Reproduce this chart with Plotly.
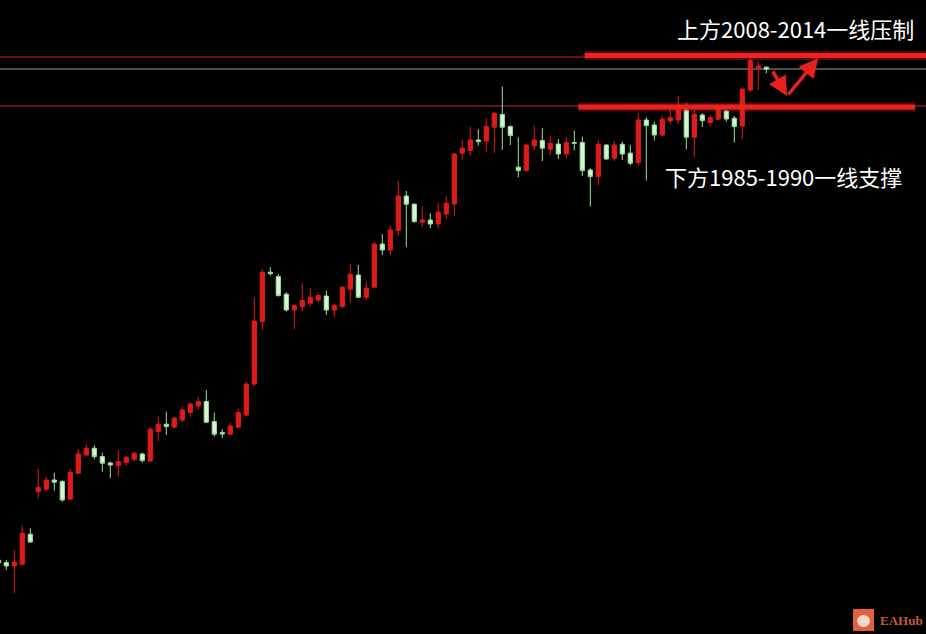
import plotly.graph_objects as go

# Gold price candles
opens = [1760, 1758.7, 1757, 1757.9, 1772.9, 1794.2, 1795.4, 1800, 1799.2, 1790.4,
         1803.4, 1812.5, 1815.9, 1811.7, 1808.5, 1807.2, 1808.7, 1810.4, 1813, 1809.5,
         1824.2, 1827.9, 1826.4, 1830, 1833.7, 1837, 1839.2, 1829.2, 1823.7, 1822.9,
         1826.4, 1832.5, 1848, 1879.2, 1903.9, 1901.7, 1892.9, 1885, 1886.7, 1888.4,
         1890, 1892, 1885, 1886.7, 1895.4, 1902.5, 1891.4, 1896.4, 1918, 1915,
         1924.7, 1942, 1937.9, 1928.9, 1930, 1928, 1933, 1938, 1963.4, 1964.7,
         1970, 1969.5, 1976.4, 1982.8, 1976.7, 1956.4, 1954.7, 1967, 1969.7, 1965.4,
         1968, 1963, 1968.7, 1968.7, 1955, 1951.7, 1967.5, 1960.9, 1967.9, 1963.4,
         1958.7, 1980, 1977.5, 1972.5, 1979.5, 1980, 1985, 1971.4, 1982.5, 1978.7,
         1980.4, 1984.5, 1980.9, 1977, 1995, 2006, 2006.4]
highs = [1761, 1760, 1765, 1777.2, 1775.9, 1805.5, 1801.7, 1803.7, 1800, 1805.4,
         1815.5, 1818, 1817.5, 1813.7, 1809.2, 1815, 1812, 1814.2, 1813.7, 1826.4,
         1831.7, 1834.2, 1831.7, 1836.7, 1838.7, 1841.7, 1845, 1833.7, 1825.4, 1828.7,
         1835.5, 1849.2, 1891.3, 1905.4, 1906.4, 1902.9, 1893.9, 1887.5, 1898.7, 1895.9,
         1893.7, 1894.7, 1888, 1897, 1908, 1907.5, 1899.2, 1919.2, 1923, 1927.2,
         1949.7, 1944.5, 1938.4, 1937, 1933.4, 1938.7, 1942, 1963.7, 1970, 1976.7,
         1975.4, 1980.9, 1984.2, 1996.7, 1977.2, 1971.4, 1968.4, 1977.2, 1975.9, 1972,
         1970.5, 1971.7, 1974.7, 1971.7, 1955.9, 1970, 1967.9, 1969.5, 1969.2, 1967.5,
         1983.4, 1981.4, 1979.2, 1982, 1985.4, 1991.7, 1988.4, 1987.5, 1983.4, 1982.5,
         1986.7, 1985.4, 1982, 1996.4, 2011.7, 2009.2, 2006.7]
lows = [1757, 1755, 1743.4, 1757, 1768.7, 1790.9, 1794.2, 1794.7, 1789.2, 1790,
        1803, 1811.7, 1810.4, 1804.2, 1800.9, 1801.7, 1807.5, 1809.2, 1808.7, 1809.2,
        1819.5, 1822.5, 1825.9, 1828.9, 1831.7, 1835.4, 1828.4, 1821.7, 1820.9, 1822.5,
        1825.9, 1831.7, 1847, 1875, 1902.2, 1891.7, 1884.2, 1875.4, 1884.2, 1886.7,
        1888.9, 1882.5, 1881.4, 1885.9, 1888.7, 1890.9, 1890, 1895.9, 1912.5, 1912.5,
        1922, 1916.4, 1928.7, 1926.7, 1925.9, 1925.9, 1930.4, 1932, 1960, 1962,
        1967.2, 1964.2, 1963.4, 1965, 1967.5, 1951.4, 1954.2, 1965, 1959.5, 1962.5,
        1960.5, 1960.9, 1964.7, 1952, 1936.7, 1947.5, 1960, 1959.5, 1960, 1957.5,
        1957, 1949.7, 1969.7, 1972, 1978, 1978, 1965.4, 1961.4, 1976.4, 1976.7,
        1980, 1979.2, 1968.7, 1970.4, 1994.2, 1995, 2003.4]
closes = [1758.5, 1757, 1758.9, 1773.4, 1769, 1796.2, 1800, 1798.9, 1790, 1803.7,
          1813, 1815.9, 1811.7, 1808.4, 1807.5, 1809.2, 1811.4, 1813.4, 1809.7, 1825.4,
          1827.9, 1826.7, 1830.9, 1835, 1838, 1839.2, 1828.9, 1822.9, 1823, 1827,
          1833.7, 1848, 1879.5, 1903.9, 1903.2, 1892.2, 1885, 1887.2, 1889.7, 1891.4,
          1892.2, 1885, 1887.2, 1896.4, 1902.9, 1891.4, 1895.9, 1918, 1915, 1925,
          1942, 1937.9, 1929.2, 1930, 1928, 1933.9, 1938.4, 1963, 1965.9, 1970,
          1969.2, 1976.7, 1983.4, 1976.4, 1972.2, 1954.7, 1967.5, 1970, 1965.9, 1968.4,
          1963, 1968.7, 1968.4, 1954.7, 1951.7, 1967.9, 1960.5, 1967.5, 1963, 1958.4,
          1980, 1977.2, 1972.5, 1980.4, 1981.2, 1985.4, 1971.4, 1982.9, 1979.7, 1981.2,
          1985.5, 1980.5, 1976.7, 1995.4, 2009.7, 2007, 2005.4]
bars = list(range(len(opens)))

# Levels
resistance_level = 2011.5
support_level = 1987
last_price = 2005.5
resistance_band = 2012.3
support_band = 1986.5

upper_text = "上方2008-2014一线压制"
lower_text = "下方1985-1990一线支撑"

RED = "#e01b1b"
GREEN_LINE = "#9be09b"
GREEN_FILL = "#d8f6d4"

fig = go.Figure()
fig.add_trace(go.Candlestick(
    x=bars, open=opens, high=highs, low=lows, close=closes,
    increasing=dict(line=dict(color=RED, width=1), fillcolor=RED),
    decreasing=dict(line=dict(color=GREEN_LINE, width=1), fillcolor=GREEN_FILL),
    whiskerwidth=0, showlegend=False, hoverinfo="skip",
))

shapes = [
    dict(type="line", xref="paper", x0=0, x1=1, yref="y", y0=resistance_level, y1=resistance_level,
         line=dict(color="#d42020", width=1), layer="below"),
    dict(type="line", xref="paper", x0=0, x1=1, yref="y", y0=support_level, y1=support_level,
         line=dict(color="#d42020", width=1), layer="below"),
    dict(type="line", xref="paper", x0=0, x1=1, yref="y", y0=last_price, y1=last_price,
         line=dict(color="#9a9a9a", width=1), layer="below"),
    # glow
    dict(type="line", xref="x", x0=73.3, x1=116, yref="y", y0=resistance_band, y1=resistance_band,
         line=dict(color="rgba(230,30,30,0.35)", width=9)),
    dict(type="line", xref="x", x0=72.5, x1=114.6, yref="y", y0=support_band, y1=support_band,
         line=dict(color="rgba(230,30,30,0.35)", width=9)),
    dict(type="line", xref="x", x0=73.3, x1=116, yref="y", y0=resistance_band, y1=resistance_band,
         line=dict(color="#ee2020", width=5)),
    dict(type="line", xref="x", x0=72.5, x1=114.6, yref="y", y0=support_band, y1=support_band,
         line=dict(color="#ee2020", width=5)),
    # watermark icon
    dict(type="rect", xref="paper", yref="paper", x0=853/926, x1=874/926, y0=1-631/634, y1=1-609/634,
         fillcolor="#e0623c", line=dict(width=0)),
    dict(type="circle", xref="paper", yref="paper", x0=857/926, x1=870/926, y0=1-627/634, y1=1-615/634,
         fillcolor="#f4d8cc", line=dict(width=0)),
]

annotations = [
    dict(xref="paper", yref="paper", x=916/926, y=1-28/634, xanchor="right", yanchor="middle",
         text=upper_text, showarrow=False,
         font=dict(family="Noto Sans CJK SC", size=22, color="white")),
    dict(xref="paper", yref="paper", x=904/926, y=1-176/634, xanchor="right", yanchor="middle",
         text=lower_text, showarrow=False,
         font=dict(family="Noto Sans CJK SC", size=22, color="white")),
    dict(xref="x", yref="y", x=98.6, y=1992.0, ax=96.7, ay=2005.0, axref="x", ayref="y",
         showarrow=True, arrowhead=2, arrowsize=1.1, arrowwidth=3.5, arrowcolor="#e82020", text=""),
    dict(xref="x", yref="y", x=102.5, y=2011.0, ax=98.6, ay=1992.0, axref="x", ayref="y",
         showarrow=True, arrowhead=2, arrowsize=1.1, arrowwidth=3.5, arrowcolor="#e82020", text=""),
    dict(xref="paper", yref="paper", x=878/926, y=1-620/634, xanchor="left", yanchor="middle",
         text="<b>EAHub</b>", showarrow=False,
         font=dict(family="Liberation Serif", size=13, color="#c85a3a")),
]

fig.update_layout(
    width=926, height=634,
    margin=dict(l=0, r=0, t=0, b=0),
    paper_bgcolor="black", plot_bgcolor="black",
    xaxis=dict(visible=False, range=[0.2125, 115.96], rangeslider=dict(visible=False), fixedrange=True),
    yaxis=dict(visible=False, range=[1723, 2040], fixedrange=True),
    boxgap=0.25,
    shapes=shapes, annotations=annotations,
    showlegend=False,
)

fig.write_html(
    "out.html",
    config={"displayModeBar": False},
    post_script="document.body.style.margin='0';document.body.style.overflow='hidden';document.body.style.background='black';",
)
